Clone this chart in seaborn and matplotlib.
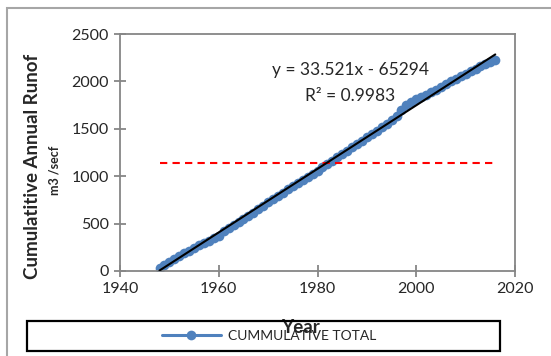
import numpy as np
import pandas as pd
import matplotlib
matplotlib.use('Agg')
import matplotlib.pyplot as plt
from matplotlib.patches import Rectangle
import seaborn as sns

# datos
years = list(range(1948, 2017))
cumulative = [30, 60, 95, 125, 160, 190, 215, 240, 270, 300,
              320, 345, 370, 420, 455, 490, 520, 550, 585, 615,
              650, 690, 725, 760, 790, 825, 860, 895, 925, 960,
              990, 1025, 1060, 1095, 1130, 1165, 1200, 1235, 1270, 1305,
              1340, 1375, 1410, 1445, 1480, 1515, 1555, 1590, 1640, 1700,
              1750, 1785, 1810, 1835, 1860, 1885, 1910, 1940, 1970, 2000,
              2030, 2055, 2080, 2110, 2135, 2160, 2185, 2205, 2230]
slope = 33.521
intercept = -65294
r2 = 0.9983
ref_level = 1140
ref_span = [1948, 2016]
series_name = 'CUMMULATIVE TOTAL'

df = pd.DataFrame({'Year': years, 'Total': cumulative})

sns.set_style('white')
plt.rcParams['font.family'] = ['Lato', 'DejaVu Sans']

W, H = 551, 356
fig = plt.figure(figsize=(W / 100, H / 100), dpi=100)
ax = fig.add_axes([120 / W, 1 - 271 / H, 395 / W, 237 / H])

sns.lineplot(data=df, x='Year', y='Total', ax=ax, color='#4F81BD', marker='o',
             markersize=7, markeredgewidth=0, linewidth=2.2, label=series_name,
             legend=False)

# linea de tendencia
xt = np.array(ref_span)
ax.plot(xt, slope * xt + intercept, color='black', linewidth=1.5, zorder=5)
# linea roja discontinua
ax.hlines(ref_level, ref_span[0], ref_span[1], colors='#FF0000', linestyles=(0, (3.5, 2.5)),
          linewidth=1.5, zorder=4)

ax.set_xlim(1940, 2020)
ax.set_ylim(0, 2500)
ax.set_xticks(range(1940, 2021, 20))
ax.set_yticks(range(0, 2501, 500))
ax.tick_params(direction='inout', length=8, width=1.3, color='#868686',
               labelsize=11.5, pad=4, left=True, bottom=True)
for s in ax.spines.values():
    s.set_color('#868686')
    s.set_linewidth(1.3)

ax.set_xlabel('Year', fontsize=13.5, fontweight='bold')
ax.xaxis.set_label_coords((300 - 120) / 395, (271 - 319) / 237)
ax.set_ylabel('')
fig.text(33 / W, 1 - 166 / H, 'Cumulatitive Annual Runof', rotation=90, fontsize=13.5,
         fontweight='bold', ha='center', va='center')
fig.text(55 / W, 1 - 170 / H, 'm3 /secf', rotation=90, fontsize=9,
         fontweight='bold', ha='center', va='center')

# ecuacion de la tendencia
ax.text((350 - 120) / 395, (271 - 70) / 237, 'y = %.3fx - %d' % (slope, -intercept),
        transform=ax.transAxes, fontsize=12.5, ha='center', va='center')
ax.text((350 - 120) / 395, (271 - 96) / 237, 'R² = %.4f' % r2, transform=ax.transAxes,
        fontsize=12.5, ha='center', va='center')

# marco exterior y caja de leyenda
fig.patches.append(Rectangle((7 / W, -0.1), 1.2, 1 - 8 / H + 0.1, transform=fig.transFigure,
                             fill=False, edgecolor='#A6A6A6', linewidth=1.5))
fig.patches.append(Rectangle((27 / W, 1 - 351 / H), 473 / W, 30 / H, transform=fig.transFigure,
                             fill=False, edgecolor='black', linewidth=1.6))
h, l = ax.get_legend_handles_labels()
fig.legend(h, l, loc='center', bbox_to_anchor=(269 / W, 1 - 336 / H), frameon=False,
           fontsize=10, handlelength=4.3, handletextpad=0.5, borderpad=0)

fig.savefig('out.png', dpi=100)
